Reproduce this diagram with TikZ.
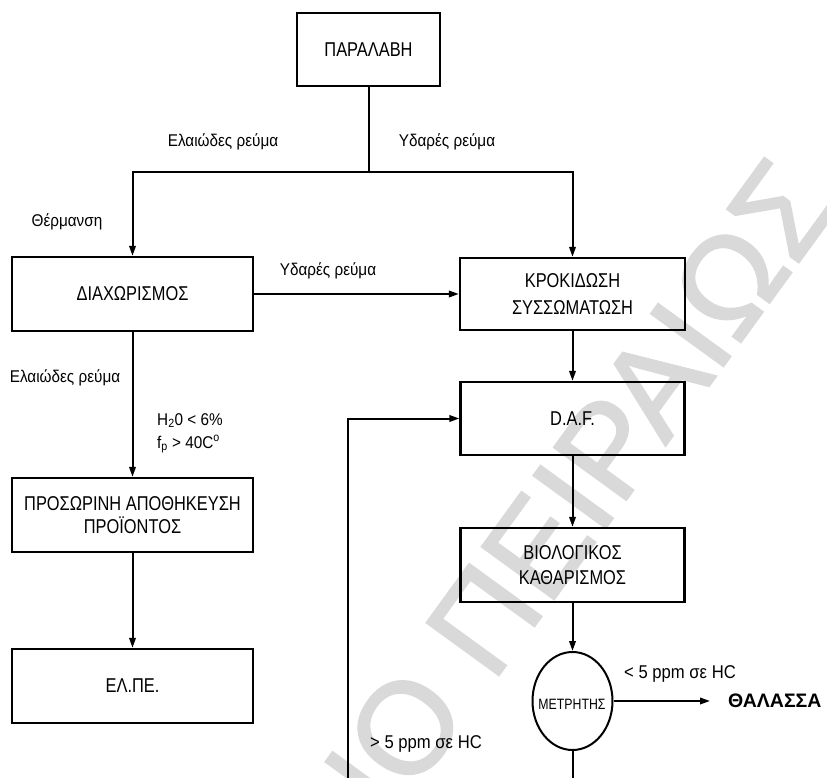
\documentclass[tikz,border=0pt]{standalone}
\usepackage{fontspec}
\setmainfont{Liberation Sans}
\newfontfamily\boxfont[FakeStretch=0.82]{Liberation Sans}
\newfontfamily\labfont[FakeStretch=0.9]{Liberation Sans}
\newfontfamily\wmfont[FakeBold=1.5]{Liberation Sans}
\usetikzlibrary{arrows.meta,shapes.geometric}
\begin{document}
\begin{tikzpicture}[x=1pt,y=-1pt,
  box/.style={draw, line width=2.3pt, rectangle, inner sep=0pt, align=center,
    font=\boxfont\fontsize{20}{25}\selectfont},
  lab/.style={font=\labfont\fontsize{17}{20}\selectfont, inner sep=0pt, anchor=base},
  ppm/.style={font=\labfont\fontsize{18.5}{20}\selectfont, inner sep=0pt, anchor=base},
  flow/.style={line width=2pt, -{Triangle[length=10pt,width=6.5pt]}},
  wire/.style={line width=2pt}]
\useasboundingbox (0,0) rectangle (827,778);
\begin{scope}
\clip (0,0) rectangle (827,778);
\node[anchor=base east, rotate=54, text=black!15, font=\wmfont\fontsize{130}{130}\selectfont, inner sep=0pt] (wm) at (842,203) {ΙΟ ΠΕΙΡΑΙΩΣ};
\end{scope}

% boxes
\node[box, minimum width=143pt, minimum height=73pt] (par) at (368.5,49.5) {ΠΑΡΑΛΑΒΗ};
\node[box, minimum width=241pt, minimum height=74pt] (dia) at (132.5,294) {ΔΙΑΧΩΡΙΣΜΟΣ};
\node[box, minimum width=225pt, minimum height=72pt, font=\boxfont\fontsize{20}{27}\selectfont] (kro) at (572.5,294) {ΚΡΟΚΙΔΩΣΗ\\ΣΥΣΣΩΜΑΤΩΣΗ};
\node[box, minimum width=224pt, minimum height=73pt] (daf) at (572.5,418.5) {D.A.F.};
\node[box, minimum width=224pt, minimum height=74pt] (bio) at (572.5,565) {ΒΙΟΛΟΓΙΚΟΣ\\ΚΑΘΑΡΙΣΜΟΣ};
\node[box, minimum width=241pt, minimum height=74pt, font=\boxfont\fontsize{20}{23.5}\selectfont] (pro) at (132.5,515) {ΠΡΟΣΩΡΙΝΗ ΑΠΟΘΗΚΕΥΣΗ\\ΠΡΟΪΟΝΤΟΣ};
\node[box, minimum width=241pt, minimum height=74pt] (elp) at (132.5,686) {ΕΛ.ΠΕ.};
\node[draw, ellipse, line width=2pt, minimum width=80pt, minimum height=98pt, inner sep=0pt] (met) at (572.5,701) {};
\node[font=\boxfont\fontsize{15}{15}\selectfont, inner sep=0pt] (mett) at (572,704) {ΜΕΤΡΗΤΗΣ};
\node[font=\bfseries\fontsize{19.5}{20}\selectfont, anchor=west, inner sep=0pt] (tha) at (728,701) {ΘΑΛΑΣΣΑ};

% connectors
\coordinate (split) at (368.5,172);
\coordinate (lt) at (132.5,172);
\coordinate (rt) at (572.5,172);
\draw[wire] (par.south) -- (split);
\draw[wire, line cap=rect] (lt) -- (rt);
\draw[flow] (lt) -- (dia.north);
\draw[flow] (rt) -- (kro.north);
\draw[flow] (dia.east) -- (kro.west);
\draw[flow] (kro.south) -- (daf.north);
\draw[flow] (daf.south) -- (bio.north);
\draw[flow] (bio.south) -- (met.north);
\coordinate (seaend) at (710,701);
\draw[flow] (met.east) -- (seaend);
\coordinate (meb) at (572.5,778);
\draw[wire] (met.south) -- (meb);
\coordinate (fbb) at (348,778);
\coordinate (fbt) at (348,418.5);
\draw[flow] (fbb) -- (fbt) -- (daf.west);
\draw[flow] (dia.south) -- (pro.north);
\draw[flow] (pro.south) -- (elp.north);

% labels
\node[lab] (l1) at (223,147) {Ελαιώδες ρεύμα};
\node[lab] (l2) at (447,147) {Υδαρές ρεύμα};
\node[lab] (l3) at (67,226) {Θέρμανση};
\node[lab] (l4) at (328,275) {Υδαρές ρεύμα};
\node[lab] (l5) at (65,382) {Ελαιώδες ρεύμα};
\node[lab, anchor=base west] (l6) at (157,425) {H\textsubscript{2}0 < 6\%};
\node[lab, anchor=base west] (l7) at (157,448) {f\textsubscript{p} > 40C\textsuperscript{o}};
\node[ppm] (l8) at (680,678) {< 5 ppm σε HC};
\node[ppm] (l9) at (426,748) {> 5 ppm σε HC};
\end{tikzpicture}
\end{document}
